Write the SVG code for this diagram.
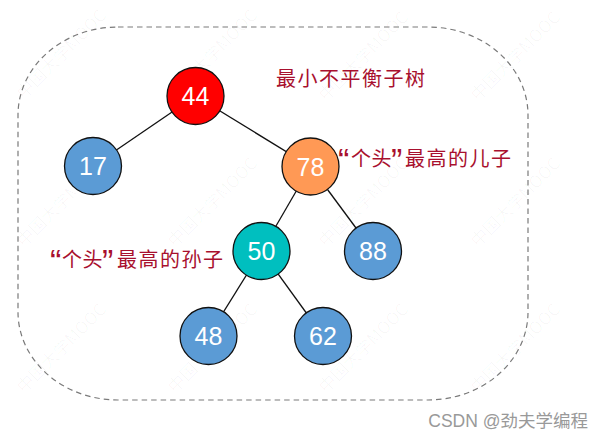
<svg xmlns="http://www.w3.org/2000/svg" width="605" height="440" viewBox="0 0 605 440">
<style>
.node{stroke:#111;stroke-width:1.3}
.num{font-family:"Liberation Sans",Arial,sans-serif;font-size:25px;fill:#fff;text-anchor:middle}
.lbl{font-family:"Noto Sans CJK SC","Noto Sans",sans-serif;font-size:20px;letter-spacing:1.5px;fill:#A8102E}
.q{font-family:"Liberation Sans",Arial,sans-serif;font-size:34px;letter-spacing:0}
.t{letter-spacing:0.5px}
.wm{font-family:"Noto Sans CJK SC",sans-serif;font-size:17px;fill:#000;fill-opacity:0.03}
.edge{stroke:#111;stroke-width:1.3}
</style>
<rect width="605" height="440" fill="#fff"/>
<g id="watermarks">
<text class="wm" transform="translate(24,100) rotate(-45)">中国大学MOOC</text>
<text class="wm" transform="translate(175,100) rotate(-45)">中国大学MOOC</text>
<text class="wm" transform="translate(326,102) rotate(-45)">中国大学MOOC</text>
<text class="wm" transform="translate(478,102) rotate(-45)">中国大学MOOC</text>
<text class="wm" transform="translate(24,248) rotate(-45)">中国大学MOOC</text>
<text class="wm" transform="translate(175,248) rotate(-45)">中国大学MOOC</text>
<text class="wm" transform="translate(326,248) rotate(-45)">中国大学MOOC</text>
<text class="wm" transform="translate(478,248) rotate(-45)">中国大学MOOC</text>
<text class="wm" transform="translate(24,394) rotate(-45)">中国大学MOOC</text>
<text class="wm" transform="translate(175,394) rotate(-45)">中国大学MOOC</text>
<text class="wm" transform="translate(326,394) rotate(-45)">中国大学MOOC</text>
<text class="wm" transform="translate(478,394) rotate(-45)">中国大学MOOC</text>
</g>
<g id="frame">
<rect x="18" y="27" width="510" height="373" rx="100" ry="88" fill="none" stroke="#7a7a7a" stroke-width="1.2" stroke-dasharray="5.5 4"/>
</g>
<g id="connectors">
<line class="edge" x1="195.5" y1="96" x2="93" y2="166"/>
<line class="edge" x1="195.5" y1="96" x2="310.5" y2="166.5"/>
<line class="edge" x1="310.5" y1="166.5" x2="261.5" y2="251"/>
<line class="edge" x1="310.5" y1="166.5" x2="373" y2="251"/>
<line class="edge" x1="261.5" y1="251" x2="208.5" y2="336"/>
<line class="edge" x1="261.5" y1="251" x2="323" y2="336"/>
</g>
<g id="n44"><circle class="node" cx="195.5" cy="96" r="28.5" fill="#FF0000"/><text class="num" x="195.5" y="105">44</text></g>
<g id="n17"><circle class="node" cx="93" cy="166" r="28.5" fill="#5B9BD5"/><text class="num" x="93" y="175">17</text></g>
<g id="n78"><circle class="node" cx="310.5" cy="166.5" r="28.5" fill="#FF9955"/><text class="num" x="310.5" y="175.5">78</text></g>
<g id="n50"><circle class="node" cx="261.5" cy="251" r="28.5" fill="#00BFBF"/><text class="num" x="261.5" y="260">50</text></g>
<g id="n88"><circle class="node" cx="373" cy="251" r="28.5" fill="#5B9BD5"/><text class="num" x="373" y="260">88</text></g>
<g id="n48"><circle class="node" cx="208.5" cy="336" r="28.5" fill="#5B9BD5"/><text class="num" x="208.5" y="345">48</text></g>
<g id="n62"><circle class="node" cx="323" cy="336" r="28.5" fill="#5B9BD5"/><text class="num" x="323" y="345">62</text></g>
<g id="labels">
<text class="lbl" x="276" y="86">最小不平衡子树</text>
<text class="lbl"><tspan class="q" x="338" y="172">“</tspan><tspan class="t" x="351" y="166">个头</tspan><tspan class="q" x="391" y="172">”</tspan><tspan x="405" y="166">最高的儿子</tspan></text>
<text class="lbl"><tspan class="q" x="50" y="273">“</tspan><tspan class="t" x="62" y="267">个头</tspan><tspan class="q" x="102" y="273">”</tspan><tspan x="117" y="267">最高的孙子</tspan></text>
</g>
<text x="588" y="427" text-anchor="end" font-family="'Liberation Sans','Noto Sans CJK SC',sans-serif" font-size="17.5" fill="#999">CSDN @劲夫学编程</text>
</svg>
